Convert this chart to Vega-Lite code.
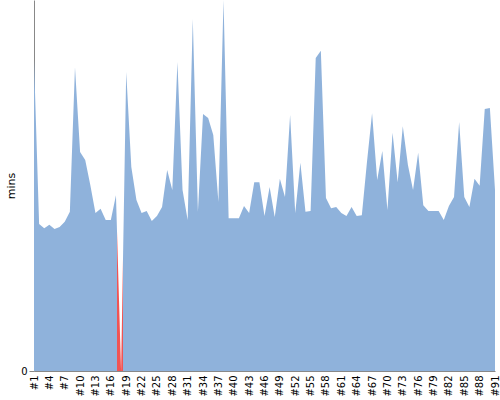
{
  "$schema": "https://vega.github.io/schema/vega-lite/v6.json",
  "width": 461,
  "height": 371,
  "padding": {"left": 5, "top": 0, "right": 5, "bottom": 3},
  "data": {
    "values": [
      {"build": "#1", "mins": 83.8}, {"build": "#2", "mins": 39.6}, {"build": "#3", "mins": 38.5},
      {"build": "#4", "mins": 39.4}, {"build": "#5", "mins": 38.3}, {"build": "#6", "mins": 38.8},
      {"build": "#7", "mins": 40.2}, {"build": "#8", "mins": 42.9}, {"build": "#9", "mins": 81.9},
      {"build": "#10", "mins": 59.0}, {"build": "#11", "mins": 56.9}, {"build": "#12", "mins": 50.1},
      {"build": "#13", "mins": 42.6}, {"build": "#14", "mins": 43.7}, {"build": "#15", "mins": 40.7},
      {"build": "#16", "mins": 40.7}, {"build": "#17", "mins": 47.4}, {"build": "#18", "mins": 0},
      {"build": "#19", "mins": 80.6}, {"build": "#20", "mins": 55.0}, {"build": "#21", "mins": 46.1},
      {"build": "#22", "mins": 42.6}, {"build": "#23", "mins": 43.1}, {"build": "#24", "mins": 40.4},
      {"build": "#25", "mins": 41.8}, {"build": "#26", "mins": 44.2}, {"build": "#27", "mins": 54.2},
      {"build": "#28", "mins": 48.8}, {"build": "#29", "mins": 83.3}, {"build": "#30", "mins": 48.8},
      {"build": "#31", "mins": 40.7}, {"build": "#32", "mins": 94.9}, {"build": "#33", "mins": 42.9},
      {"build": "#34", "mins": 69.3}, {"build": "#35", "mins": 68.2}, {"build": "#36", "mins": 63.6},
      {"build": "#37", "mins": 45.6}, {"build": "#38", "mins": 100}, {"build": "#39", "mins": 41.2},
      {"build": "#40", "mins": 41.2}, {"build": "#41", "mins": 41.2}, {"build": "#42", "mins": 44.5},
      {"build": "#43", "mins": 42.6}, {"build": "#44", "mins": 50.9}, {"build": "#45", "mins": 50.9},
      {"build": "#46", "mins": 41.8}, {"build": "#47", "mins": 49.6}, {"build": "#48", "mins": 41.5},
      {"build": "#49", "mins": 51.8}, {"build": "#50", "mins": 46.9}, {"build": "#51", "mins": 69.0},
      {"build": "#52", "mins": 42.6}, {"build": "#53", "mins": 56.1}, {"build": "#54", "mins": 42.9},
      {"build": "#55", "mins": 43.1}, {"build": "#56", "mins": 84.4}, {"build": "#57", "mins": 86.3},
      {"build": "#58", "mins": 46.6}, {"build": "#59", "mins": 43.9}, {"build": "#60", "mins": 44.2},
      {"build": "#61", "mins": 42.6}, {"build": "#62", "mins": 41.8}, {"build": "#63", "mins": 44.2},
      {"build": "#64", "mins": 41.8}, {"build": "#65", "mins": 42.0}, {"build": "#66", "mins": 56.3},
      {"build": "#67", "mins": 69.5}, {"build": "#68", "mins": 51.5}, {"build": "#69", "mins": 59.3},
      {"build": "#70", "mins": 43.4}, {"build": "#71", "mins": 64.2}, {"build": "#72", "mins": 50.9},
      {"build": "#73", "mins": 66.0}, {"build": "#74", "mins": 55.5}, {"build": "#75", "mins": 48.8},
      {"build": "#76", "mins": 58.8}, {"build": "#77", "mins": 44.7}, {"build": "#78", "mins": 43.1},
      {"build": "#79", "mins": 43.1}, {"build": "#80", "mins": 43.1}, {"build": "#81", "mins": 40.7},
      {"build": "#82", "mins": 44.5}, {"build": "#83", "mins": 46.9}, {"build": "#84", "mins": 67.1},
      {"build": "#85", "mins": 46.9}, {"build": "#86", "mins": 44.2}, {"build": "#87", "mins": 51.8},
      {"build": "#88", "mins": 49.9}, {"build": "#89", "mins": 70.6}, {"build": "#90", "mins": 70.9},
      {"build": "#91", "mins": 48.8}
    ]
  },
  "mark": {
    "type": "area",
    "color": {
      "gradient": "linear",
      "x1": 0, "y1": 0, "x2": 1, "y2": 0,
      "stops": [
        {"offset": 0, "color": "#8fb2db"},
        {"offset": 0.1806, "color": "#8fb2db"},
        {"offset": 0.1806, "color": "#f05454"},
        {"offset": 0.1936, "color": "#f05454"},
        {"offset": 0.1936, "color": "#8fb2db"},
        {"offset": 1, "color": "#8fb2db"}
      ]
    }
  },
  "encoding": {
    "x": {
      "field": "build",
      "type": "ordinal",
      "sort": null,
      "scale": {"padding": 0},
      "axis": {
        "title": null,
        "labelAngle": 270,
        "ticks": false,
        "labelPadding": 4,
        "domainColor": "#888888",
        "labelColor": "#000000",
        "labelFont": "DejaVu Sans",
        "labelFontSize": 10,
        "values": ["#1","#4","#7","#10","#13","#16","#19","#22","#25","#28","#31","#34","#37","#40","#43","#46","#49","#52","#55","#58","#61","#64","#67","#70","#73","#76","#79","#82","#85","#88","#91"]
      }
    },
    "y": {
      "field": "mins",
      "type": "quantitative",
      "scale": {"domain": [0, 100], "nice": false},
      "axis": {
        "title": "mins",
        "titleFontWeight": "normal",
        "titleFont": "DejaVu Sans",
        "titleFontSize": 11,
        "titleColor": "#000000",
        "labelColor": "#000000",
        "labelFont": "DejaVu Sans",
        "labelFontSize": 10,
        "values": [0],
        "grid": false,
        "domainColor": "#888888",
        "tickColor": "#888888"
      }
    }
  },
  "config": {"view": {"stroke": null}}
}
